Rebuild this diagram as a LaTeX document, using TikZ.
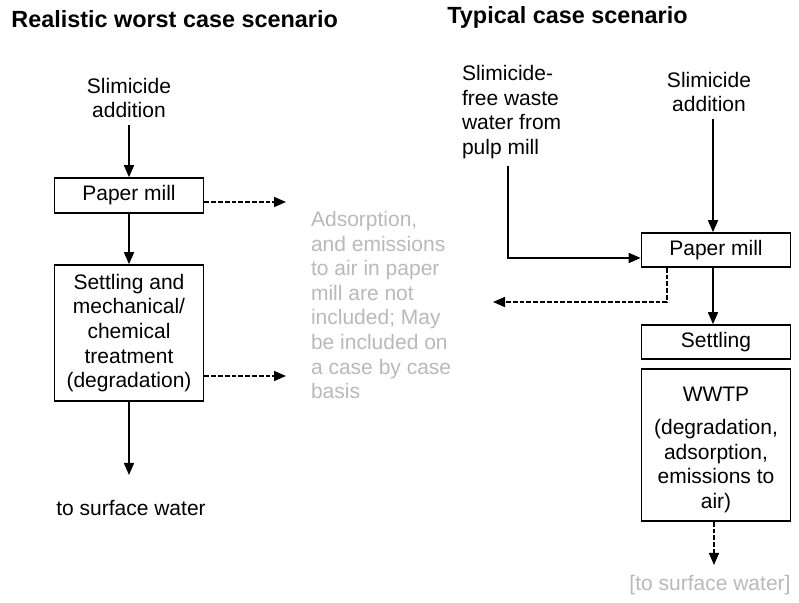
\documentclass[tikz,border=0pt]{standalone}
\usepackage{fontspec}
\setmainfont{Liberation Sans}
\usetikzlibrary{positioning,arrows.meta}
\definecolor{notegray}{RGB}{185,185,185}

\begin{document}
\begin{tikzpicture}[x=0.5pt,y=-0.5pt,
  every node/.style={font=\fontsize{10.5}{12.3}\selectfont,align=center},
  box/.style={draw,line width=0.8pt,minimum width=74.5pt,inner sep=0pt},
  head/.style={font=\fontsize{11.7}{14}\selectfont\bfseries,anchor=west,inner sep=0pt},
  arr/.style={line width=0.8pt,-{Triangle[length=6pt,width=5pt]}},
  darr/.style={arr,dash pattern=on 2.4pt off 1pt}]
\useasboundingbox (0,0) rectangle (799,603);
% left: realistic worst case
\node[head] (head1) at (11,19) {Realistic worst case scenario};
\node (add1) at (129,98) {Slimicide\\addition};
\node[box,minimum height=17.5pt] (pm1) at (129,195.5) {Paper mill};
\node[box,minimum height=68pt] (set1) at (129,333) {Settling and\\mechanical/\\chemical\\treatment\\(degradation)};
\node (surf1) at (131,508) {to surface water};
\node[text=notegray,align=left,anchor=west] (note) at (304,305) {Adsorption,\\and emissions\\to air in paper\\mill are not\\included; May\\be included on\\a case by case\\basis};
\coordinate (out1) at (286,202);
\coordinate (out2) at (286,376);
\coordinate (end1) at (129,475);
\draw[arr] (add1.south) -- (pm1.north);
\draw[arr] (pm1.south) -- (set1.north);
\draw[arr] (set1.south) -- (end1);
\draw[darr] (pm1.east |- out1) -- (out1);
\draw[darr] (set1.east |- out2) -- (out2);
% right: typical case
\node[head] (head2) at (447,17) {Typical case scenario};
\node[align=left,anchor=west] (free) at (455,112) {Slimicide-\\free waste\\water from\\pulp mill};
\node (add2) at (709,92) {Slimicide\\addition};
\node[box,minimum height=17pt] (pm2) at (716,250) {Paper mill};
\node[box,minimum height=17pt] (set2) at (716,342) {Settling};
\node[box,minimum height=76pt] (wwtp) at (716,445) {\rule{0pt}{12pt}WWTP\\[4.5pt](degradation,\\adsorption,\\emissions to\\air)};
\node[text=notegray] (surf2) at (710,585) {[to surface water]};
\coordinate (j1) at (508,258);
\coordinate (k1) at (667,302);
\coordinate (out3) at (493,302);
\coordinate (end2) at (714,565);
\draw[arr] (add2.south -| 713,0) -- (pm2.north -| 713,0);
\draw[arr] (j1 |- free.south) -- (j1) -- (pm2.west |- j1);
\draw[darr] (pm2.south -| k1) -- (k1) -- (out3);
\draw[arr] (pm2.south -| 713,0) -- (set2.north -| 713,0);
\draw[darr] (wwtp.south -| end2) -- (end2);
\end{tikzpicture}
\end{document}
